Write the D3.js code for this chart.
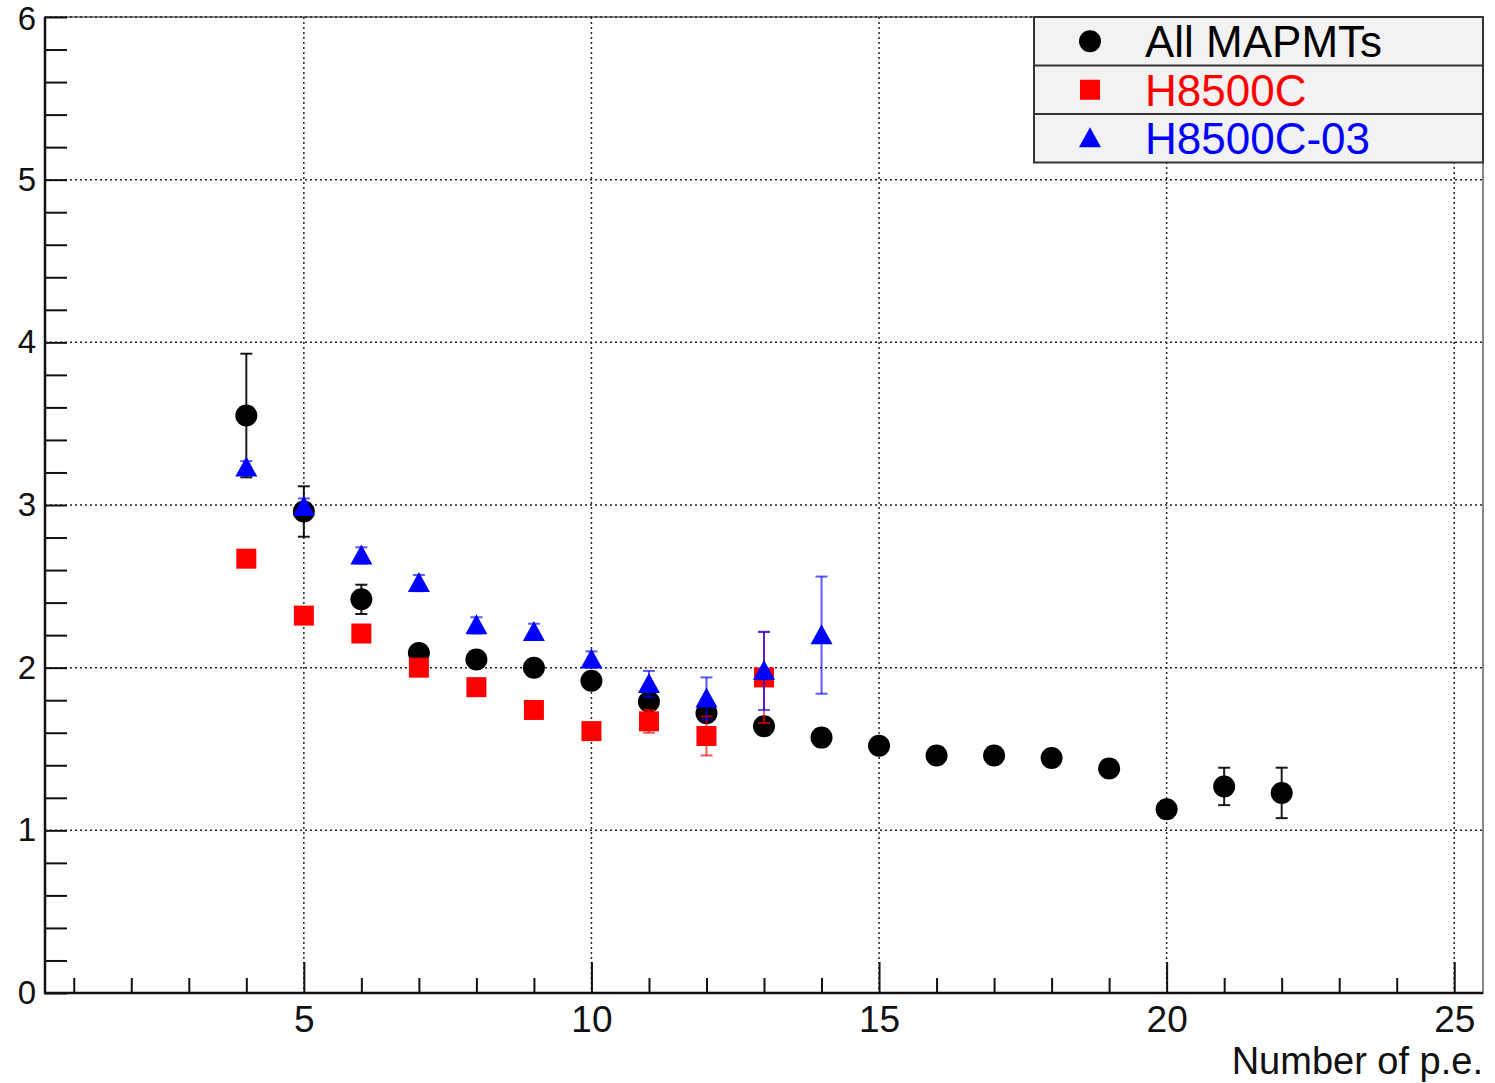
<!DOCTYPE html>
<html>
<head>
<meta charset="utf-8">
<script src="https://cdn.jsdelivr.net/npm/d3@7"></script>
<style>
  body { margin: 0; background: #fff; }
  svg { display: block; font-family: "Liberation Sans", Arial, sans-serif; }
</style>
</head>
<body>
<svg id="chart" width="1495" height="1083"></svg>
<script>
// data
const allX = [4, 5, 6, 7, 8, 9, 10, 11, 12, 13, 14, 15, 16, 17, 18, 19, 20, 21, 22]
const allY = [3.55, 2.96, 2.42, 2.09, 2.05, 2.00, 1.92, 1.79, 1.72, 1.64, 1.57, 1.52, 1.46, 1.46, 1.445, 1.38, 1.13, 1.27, 1.23]
const allErr = [0.38, 0.155, 0.09, 0.04, 0.04, 0.04, 0.04, 0.05, 0.05, 0.04, 0.04, 0.04, 0.04, 0.04, 0.04, 0.05, 0.05, 0.115, 0.155]

const cX = [4, 5, 6, 7, 8, 9, 10, 11, 12, 13]
const cY = [2.67, 2.32, 2.21, 2.00, 1.88, 1.74, 1.61, 1.67, 1.58, 1.94]
const cErr = [0.05, 0.05, 0.05, 0.04, 0.05, 0.05, 0.05, 0.07, 0.12, 0.28]

const c03X = [4, 5, 6, 7, 8, 9, 10, 11, 12, 13, 14]
const c03Y = [3.23, 2.99, 2.69, 2.52, 2.26, 2.22, 2.05, 1.90, 1.81, 1.98, 2.20]
const c03Err = [0.04, 0.05, 0.05, 0.05, 0.05, 0.05, 0.05, 0.08, 0.13, 0.24, 0.36]

const legendLabels = ["All MAPMTs", "H8500C", "H8500C-03"]
const xTitle = "Number of p.e."

const series = [
  {name: legendLabels[0], xs: allX, ys: allY, errs: allErr, color: "#000", shape: "circle"},
  {name: legendLabels[1], xs: cX, ys: cY, errs: cErr, color: "#ff0000", shape: "square"},
  {name: legendLabels[2], xs: c03X, ys: c03Y, errs: c03Err, color: "#0000ff", shape: "triangle"}
]

const L = 45, R = 1483, T = 17, B = 993
const svg = d3.select("#chart")

const x = d3.scaleLinear().domain([0.5, 25.5]).range([L, R])
const y = d3.scaleLinear().domain([0, 6]).range([B, T])

const xMajor = [5, 10, 15, 20, 25]
const xMinor = d3.range(1, 26).filter(d => d % 5 != 0)
const yMajor = d3.range(0, 7)
const yMinor = d3.range(0, 6.01, 0.2).map(d => +d.toFixed(1)).filter(d => Math.abs(d - Math.round(d)) > 0.01)

//frame
svg.append("rect").attr("x", L).attr("y", T).attr("width", R - L).attr("height", B - T)
  .attr("fill", "none").attr("stroke", "#888").attr("stroke-width", 2)

//grid
const grid = svg.append("g").attr("stroke", "#222").attr("stroke-width", 1.5).attr("stroke-dasharray", "2,3")
grid.selectAll(".gx").data(xMajor).enter().append("line")
  .attr("x1", d => x(d)).attr("x2", d => x(d)).attr("y1", T).attr("y2", B)
grid.selectAll(".gy").data(yMajor.filter(d => d > 0)).enter().append("line")
  .attr("y1", d => y(d)).attr("y2", d => y(d)).attr("x1", L).attr("x2", R)

const styleAxis = (g, fs) => {
  g.select(".domain").remove()
  g.selectAll(".tick line").attr("stroke", "#111").attr("stroke-width", 2)
  g.selectAll("text").attr("font-size", fs).attr("fill", "#111")
    .attr("font-family", "Liberation Sans, Arial, sans-serif")
}

//x axis
svg.append("g").attr("transform", `translate(0,${B})`)
  .call(d3.axisBottom(x).tickValues(xMinor).tickSize(-15).tickFormat(""))
  .call(g => styleAxis(g, 34))
svg.append("g").attr("transform", `translate(0,${B})`)
  .call(d3.axisBottom(x).tickValues(xMajor).tickSize(-31).tickPadding(13).tickFormat(d3.format("d")))
  .call(g => styleAxis(g, 37))

//y axis
svg.append("g").attr("transform", `translate(${L},0)`)
  .call(d3.axisLeft(y).tickValues(yMinor).tickSize(-22).tickFormat(""))
  .call(g => styleAxis(g, 34))
svg.append("g").attr("transform", `translate(${L},0)`)
  .call(d3.axisLeft(y).tickValues(yMajor).tickSize(-22).tickPadding(9).tickFormat(d3.format("d")))
  .call(g => styleAxis(g, 33))
  .call(g => g.selectAll("text").attr("dy", d => d == 6 ? "0.38em" : "0.32em"))

svg.append("line").attr("x1", L).attr("x2", L).attr("y1", T).attr("y2", B + 1)
  .attr("stroke", "#111").attr("stroke-width", 2.5)
svg.append("line").attr("x1", L - 1).attr("x2", R).attr("y1", B).attr("y2", B)
  .attr("stroke", "#111").attr("stroke-width", 2.5)

svg.append("text").attr("x", R).attr("y", 1074).attr("text-anchor", "end")
  .attr("font-size", 38).attr("fill", "#111").text(xTitle)

//markers
const drawMarker = (g, shape, color) => {
  if (shape == "circle") g.append("circle").attr("r", 11).attr("fill", color)
  else if (shape == "square") g.append("rect").attr("x", -10).attr("y", -10).attr("width", 20).attr("height", 20).attr("fill", color)
  else g.append("path").attr("d", "M0,-11L11,9L-11,9Z").attr("fill", color)
}

series.forEach(s => {
  const pts = s.xs.map((d, i) => ({x: d, y: s.ys[i], e: s.errs[i]}))
  const g = svg.append("g")
  const eb = g.append("g").attr("stroke", s.color).attr("stroke-width", 2)
    .attr("stroke-opacity", s.shape == "circle" ? 0.9 : 0.65)
  eb.selectAll(".v").data(pts).enter().append("line")
    .attr("x1", d => x(d.x)).attr("x2", d => x(d.x))
    .attr("y1", d => y(d.y - d.e)).attr("y2", d => y(d.y + d.e))
  eb.selectAll(".ct").data(pts).enter().append("line")
    .attr("x1", d => x(d.x) - 6).attr("x2", d => x(d.x) + 6)
    .attr("y1", d => y(d.y + d.e)).attr("y2", d => y(d.y + d.e))
  eb.selectAll(".cb").data(pts).enter().append("line")
    .attr("x1", d => x(d.x) - 6).attr("x2", d => x(d.x) + 6)
    .attr("y1", d => y(d.y - d.e)).attr("y2", d => y(d.y - d.e))
  g.selectAll(".m").data(pts).enter().append("g")
    .attr("transform", d => `translate(${x(d.x)},${y(d.y)})`)
    .each(function () { drawMarker(d3.select(this), s.shape, s.color) })
})

//legend
const lg = svg.append("g")
const lx0 = 1034, lx1 = 1483, ly0 = 17, rowH = 48.5
lg.append("rect").attr("x", lx0).attr("y", ly0).attr("width", lx1 - lx0).attr("height", rowH * 3)
  .attr("fill", "#f2f2f2").attr("stroke", "#333").attr("stroke-width", 2)
lg.selectAll(".sep").data([1, 2]).enter().append("line")
  .attr("x1", lx0).attr("x2", lx1)
  .attr("y1", d => ly0 + d * rowH).attr("y2", d => ly0 + d * rowH)
  .attr("stroke", "#333").attr("stroke-width", 2)
series.forEach((s, i) => {
  const cy = ly0 + rowH * (i + 0.5)
  const m = lg.append("g").attr("transform", `translate(1090,${cy})`)
  drawMarker(m, s.shape, s.color)
  lg.append("text").attr("x", 1145).attr("y", cy + 16).attr("font-size", 44)
    .attr("fill", s.color).text(s.name)
})
</script>
</body>
</html>
